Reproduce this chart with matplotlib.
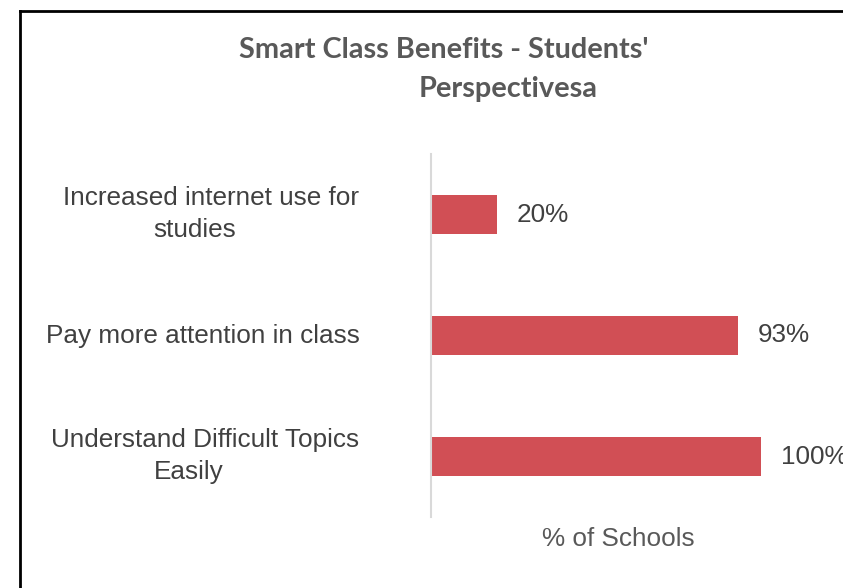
import matplotlib
matplotlib.use("Agg")
import matplotlib.pyplot as plt
from matplotlib.lines import Line2D
import matplotlib.transforms as mtransforms

categories = ["Increased internet use for\nstudies",
              "Pay more attention in class",
              "Understand Difficult Topics\nEasily"]
values = [20, 93, 100]
value_labels = ["20%", "93%", "100%"]
title_line1 = "Smart Class Benefits - Students'"
title_line2 = "Perspectivesa"
xlabel = "% of Schools"

W, H = 843, 588
fig = plt.figure(figsize=(W / 100, H / 100), dpi=100)
fig.patch.set_facecolor("white")

# outer border (only left & top visible in the crop)
fig.add_artist(Line2D([20 / W, 20 / W], [0, 1 - 10.5 / H], transform=fig.transFigure, color="black", lw=2))
fig.add_artist(Line2D([20 / W, 1], [1 - 10.5 / H, 1 - 10.5 / H], transform=fig.transFigure, color="black", lw=2))

ax_left, ax_right = 431, 827
ax_top, ax_bot = 154, 517
ax = fig.add_axes([ax_left / W, 1 - ax_bot / H, (ax_right - ax_left) / W, (ax_bot - ax_top) / H])

ypos = list(range(len(categories)))
ax.barh(ypos, values, height=0.315, color="#d14f55", zorder=2)
ax.set_xlim(0, 120)
ax.set_ylim(len(categories) - 0.5, -0.5)
for s in ["top", "right", "bottom"]:
    ax.spines[s].set_visible(False)
ax.spines["left"].set_color("#d9d9d9")
ax.spines["left"].set_linewidth(1.5)
ax.set_xticks([])
ax.set_yticks([])

fs = 18.8
txtcol = "#404040"
for y, v, lab in zip(ypos, values, value_labels):
    ax.text(v + 6, y, lab, va="center", ha="left", fontsize=fs, color=txtcol,
            family="Liberation Sans")

renderer = fig.canvas.get_renderer()
trans = mtransforms.blended_transform_factory(fig.transFigure, ax.transData)
for y, cat in zip(ypos, categories):
    lines = cat.split("\n")
    if len(lines) == 1:
        ax.text(203 / W, y, lines[0], transform=trans, ha="center", va="center",
                fontsize=fs, color=txtcol, family="Liberation Sans")
    else:
        t1 = ax.text(359 / W, y - 0.14, lines[0], transform=trans, ha="right", va="center",
                     fontsize=fs, color=txtcol, family="Liberation Sans")
        bb = t1.get_window_extent(renderer)
        c = (bb.x0 + bb.x1) / 2 - 16
        ax.text(c / W, y + 0.13, lines[1], transform=trans, ha="center", va="center",
                fontsize=fs, color=txtcol, family="Liberation Sans")

fig.text(618 / W, 1 - 539 / H, xlabel, ha="center", va="center", fontsize=fs,
         color="#595959", family="Liberation Sans")

fig.text(444 / W, 1 - 50 / H, title_line1, ha="center", va="center", fontsize=20.8,
         fontweight="bold", color="#595959", family="Lato")
fig.text(508 / W, 1 - 89 / H, title_line2, ha="center", va="center", fontsize=20.8,
         fontweight="bold", color="#595959", family="Lato")

fig.savefig("out.png", dpi=100, facecolor="white")
